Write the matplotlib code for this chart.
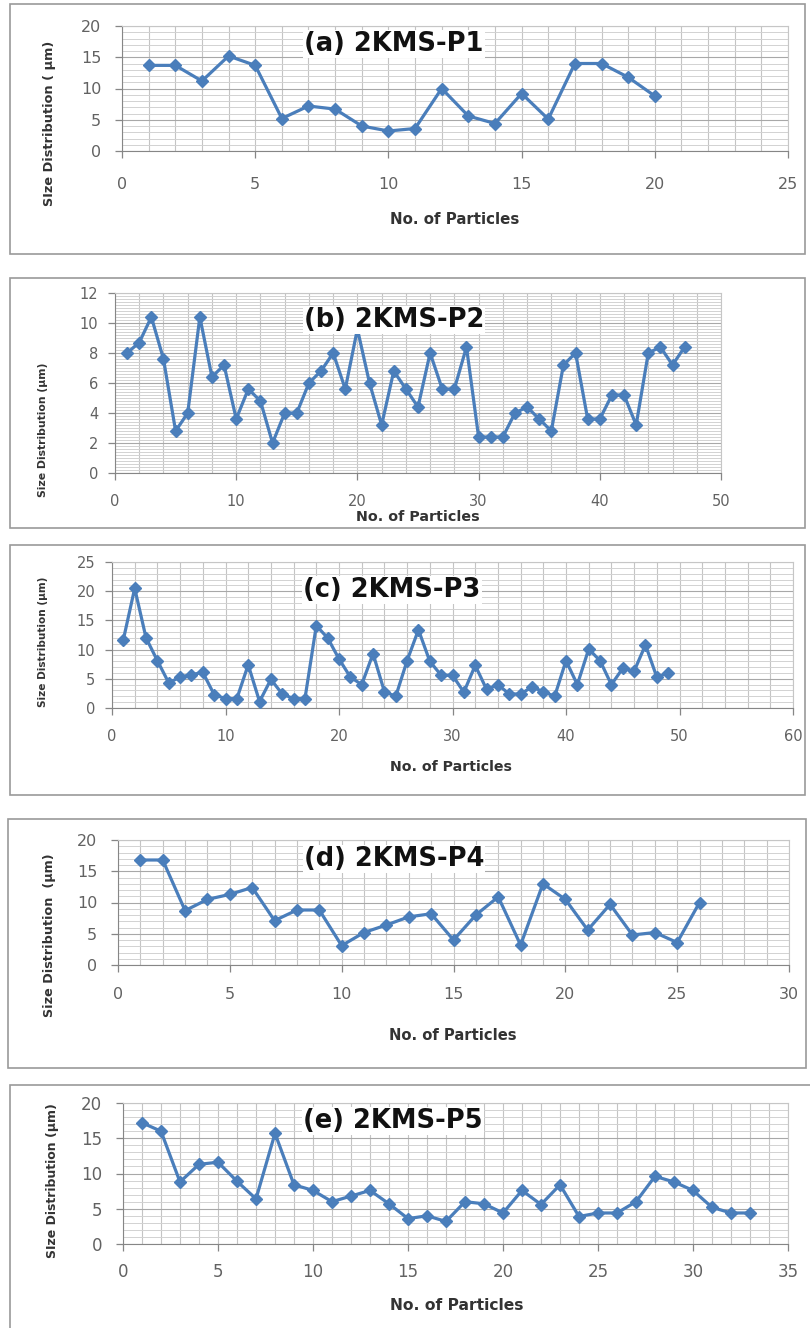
import numpy as np
import matplotlib.pyplot as plt
from matplotlib.patches import Rectangle
from matplotlib.ticker import MultipleLocator

plt.rcParams['font.family'] = ['DejaVu Sans']

# size distribution (um) of each particle
p1_sizes = [13.7, 13.7, 11.2, 15.2, 13.7, 5.2, 7.2, 6.7, 4.0, 3.2,
            3.6, 10.0, 5.6, 4.4, 9.2, 5.1, 14.0, 14.0, 11.8, 8.8]
p2_sizes = [8.0, 8.7, 10.4, 7.6, 2.8, 4.0, 10.4, 6.4, 7.2, 3.6,
            5.6, 4.8, 2.0, 4.0, 4.0, 6.0, 6.8, 8.0, 5.6, 9.6,
            6.0, 3.2, 6.8, 5.6, 4.4, 8.0, 5.6, 5.6, 8.4, 2.4,
            2.4, 2.4, 4.0, 4.4, 3.6, 2.8, 7.2, 8.0, 3.6, 3.6,
            5.2, 5.2, 3.2, 8.0, 8.4, 7.2, 8.4]
p3_sizes = [11.7, 20.5, 12.0, 8.1, 4.3, 5.3, 5.7, 6.1, 2.3, 1.6,
            1.6, 7.4, 1.1, 4.9, 2.4, 1.6, 1.6, 14.1, 12.0, 8.4,
            5.3, 4.0, 9.3, 2.8, 2.0, 8.1, 13.4, 8.0, 5.6, 5.6,
            2.7, 7.3, 3.2, 4.0, 2.4, 2.4, 3.6, 2.8, 2.0, 8.1,
            4.0, 10.1, 8.1, 4.0, 6.8, 6.3, 10.8, 5.3, 6.0]
p4_sizes = [16.8, 16.8, 8.7, 10.5, 11.3, 12.4, 7.1, 8.8, 8.8, 3.1,
            5.2, 6.4, 7.7, 8.2, 4.0, 8.0, 10.9, 3.2, 13.0, 10.5,
            5.6, 9.7, 4.8, 5.2, 3.6, 10.0]
p5_sizes = [17.2, 16.0, 8.8, 11.3, 11.6, 8.9, 6.4, 15.7, 8.4, 7.6,
            6.0, 6.8, 7.6, 5.7, 3.6, 4.0, 3.2, 6.0, 5.7, 4.4,
            7.6, 5.6, 8.4, 3.9, 4.4, 4.4, 6.0, 9.6, 8.8, 7.6,
            5.2, 4.4, 4.4]

titles = ["(a) 2KMS-P1", "(b) 2KMS-P2", "(c) 2KMS-P3", "(d) 2KMS-P4", "(e) 2KMS-P5"]
ylabels = ["SIze Distribution ( \u00b5m)", "Size Distribution (\u00b5m)",
           "Size Distribution (\u00b5m)", "Size Distribution  (\u00b5m)",
           "SIze Distribution (\u00b5m)"]
xlabel = "No. of Particles"

W, H = 810, 1328
LINE = "#4a7ebb"

# layout in pixels: axes (l, t, r, b), frame (l, t, r, b), title centre,
# xlabel centre, ylabel centre, axis limits and steps, font sizes, pads
layout = [
    dict(ax=(122, 26, 788, 151), frame=(10, 4, 805, 254), title=(394, 44),
         xl=(455, 220), yl=(50, 123), xmax=25, xstep=5, vgrid=1,
         ymax=20, ystep=5, hgrid=1, tick=11.5, yls=9.3, xls=10.8,
         xpad=14, ypad=10),
    dict(ax=(115, 293, 721, 473), frame=(10, 278, 805, 528), title=(394, 320),
         xl=(418, 517), yl=(43, 430), xmax=50, xstep=10, vgrid=2,
         ymax=12, ystep=2, hgrid=0.2, tick=10.5, yls=7.8, xls=10.3,
         xpad=10, ypad=7),
    dict(ax=(112, 562, 793, 708), frame=(10, 545, 805, 795), title=(392, 590),
         xl=(451, 767), yl=(43, 642), xmax=60, xstep=10, vgrid=2,
         ymax=25, ystep=5, hgrid=1, tick=10.5, yls=7.6, xls=10.2,
         xpad=10, ypad=7),
    dict(ax=(118, 840, 789, 965), frame=(8, 819, 806, 1068), title=(394, 859),
         xl=(453, 1035), yl=(50, 935), xmax=30, xstep=5, vgrid=1,
         ymax=20, ystep=5, hgrid=1, tick=11.5, yls=9.2, xls=10.6,
         xpad=10.5, ypad=10),
    dict(ax=(123, 1103, 788, 1244), frame=(10, 1085, 830, 1345), title=(393, 1121),
         xl=(457, 1305), yl=(53, 1181), xmax=35, xstep=5, vgrid=1,
         ymax=20, ystep=5, hgrid=1, tick=12, yls=9.0, xls=11.2,
         xpad=8.5, ypad=10),
]


def fx(px):
    return px / W


def fy(py):
    return 1 - py / H


def draw_panel(fig, sizes, title, ylabel, lay):
    """Draw one Excel style line chart with its frame and labels."""
    fl, ft, fr, fb = lay["frame"]
    fig.patches.append(Rectangle((fx(fl), fy(fb)), (fr - fl) / W, (fb - ft) / H,
                                 transform=fig.transFigure, fill=False,
                                 edgecolor="#9a9a9a", lw=1.2))

    l, t, r, b = lay["ax"]
    ax = fig.add_axes([fx(l), fy(b), (r - l) / W, (b - t) / H])
    x = np.arange(1, len(sizes) + 1)
    ax.plot(x, sizes, c=LINE, lw=2.3, marker="D", ms=6, zorder=3)

    ax.set_xlim(0, lay["xmax"])
    ax.set_ylim(0, lay["ymax"])
    ax.xaxis.set_major_locator(MultipleLocator(lay["xstep"]))
    ax.xaxis.set_minor_locator(MultipleLocator(lay["vgrid"]))
    ax.yaxis.set_major_locator(MultipleLocator(lay["ystep"]))
    ax.yaxis.set_minor_locator(MultipleLocator(lay["hgrid"]))
    ax.grid(which="both", axis="x", color="#c4c4c4", lw=0.8)
    ax.grid(which="major", axis="y", color="#a8a8a8", lw=0.8)
    ax.grid(which="minor", axis="y", color="#d2d2d2", lw=0.7)
    ax.set_axisbelow(True)

    ax.tick_params(which="minor", length=0)
    ax.tick_params(which="major", length=5, width=0.9, color="#868686",
                   labelsize=lay["tick"], labelcolor="#626262")
    ax.tick_params(axis="x", pad=lay["xpad"])
    ax.tick_params(axis="y", pad=lay["ypad"])
    for side in ["left", "bottom"]:
        ax.spines[side].set_color("#868686")
    for side in ["top", "right"]:
        ax.spines[side].set_color("#c6c6c6")
        ax.spines[side].set_linewidth(0.8)

    tx, ty = lay["title"]
    fig.text(fx(tx), fy(ty), title, ha="center", va="center", fontsize=18.5,
             fontweight="bold", color="#111111",
             bbox=dict(facecolor="white", edgecolor="none", pad=1))
    xx, xy = lay["xl"]
    fig.text(fx(xx), fy(xy), xlabel, ha="center", va="center",
             fontsize=lay["xls"], fontweight="bold", color="#333333")
    yx, yy = lay["yl"]
    fig.text(fx(yx), fy(yy), ylabel, ha="center", va="center", rotation=90,
             fontsize=lay["yls"], fontweight="bold", color="#333333")
    return ax


if __name__ == "__main__":
    fig = plt.figure(figsize=(W / 100, H / 100), dpi=100)
    all_sizes = [p1_sizes, p2_sizes, p3_sizes, p4_sizes, p5_sizes]
    for sizes, title, ylabel, lay in zip(all_sizes, titles, ylabels, layout):
        draw_panel(fig, sizes, title, ylabel, lay)
    fig.savefig("out.png", dpi=100)
